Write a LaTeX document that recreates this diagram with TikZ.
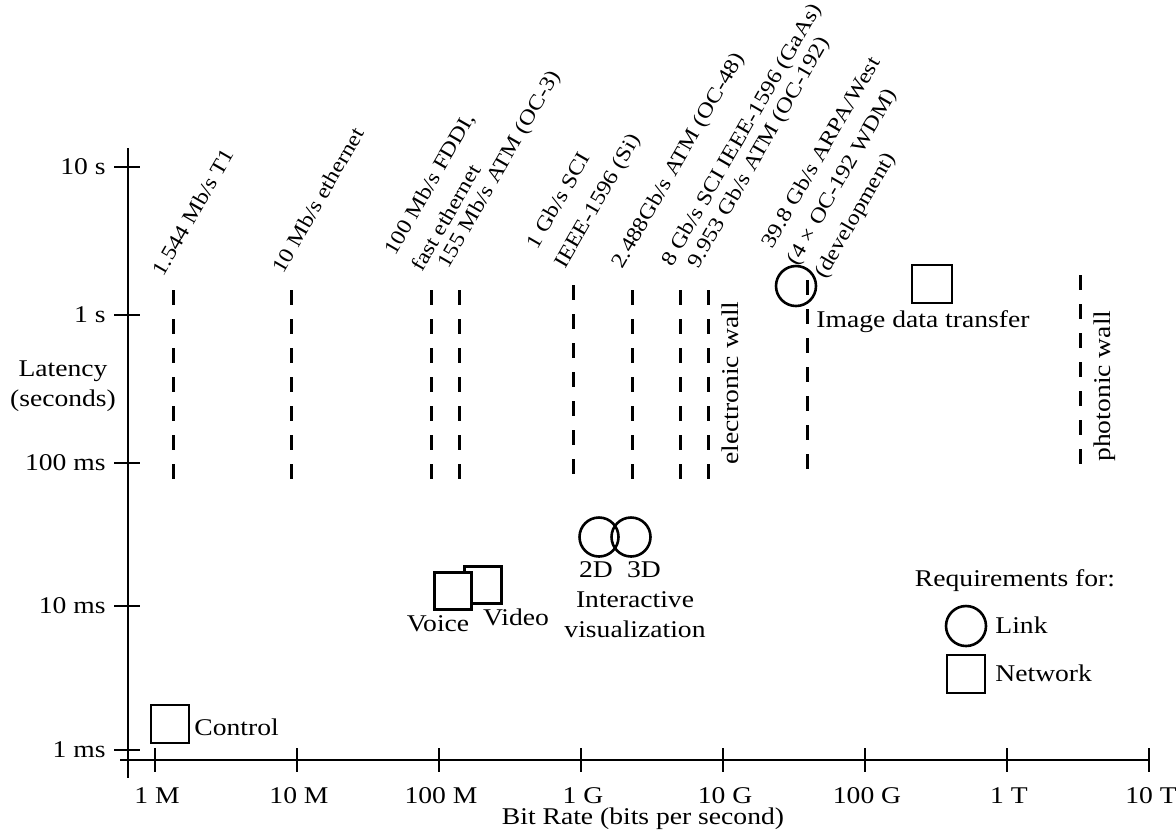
\documentclass[tikz,border=0pt]{standalone}
\usepackage{fontspec}
\setmainfont[FakeStretch=1.15]{Liberation Serif}
\begin{document}
\begin{tikzpicture}[x=0.5pt,y=-0.5pt,
  axline/.style={line width=1.4pt},
  axtick/.style={line width=1.2pt},
  dashline/.style={line width=1.5pt, dash pattern=on 7.5pt off 7pt},
  lbl/.style={inner sep=0pt, font=\fontsize{12}{15}\selectfont},
  rlab/.style={rotate=60, anchor=base west, inner sep=0pt, font=\fontsize{10.5}{12}\selectfont},
  vlab/.style={rotate=90, anchor=base west, inner sep=0pt, font=\fontsize{12}{15}\selectfont},
  sq/.style={draw, line width=1.3pt, fill=white, rectangle, inner sep=0pt, minimum width=19pt, minimum height=19pt},
  ci/.style={draw, line width=1.3pt, circle, inner sep=0pt, minimum size=20pt}
]
\useasboundingbox[fill=white] (0,0) rectangle (1176,832);

% axes
\coordinate (ytop) at (128,148);
\coordinate (ybot) at (128,778);
\coordinate (xl) at (120,760);
\coordinate (xr) at (1150,760);
\draw[axline] (ytop) -- (ybot);
\draw[axline] (xl) -- (xr);

% y ticks and labels
\foreach \yy/\t [count=\i] in {167/10 s, 315/1 s, 463/100 ms, 606/10 ms, 750/1 ms}{
  \draw[axtick] (114,\yy) -- (140,\yy);
  \node[lbl, anchor=east] (ylab\i) at (106,\yy) {\t};
}
\node[lbl, align=center] (latency) at (63,386) {Latency\\(seconds)};

% x ticks and labels
\foreach \xx/\t [count=\i] in {155/1 M, 297/10 M, 439/100 M, 581/1 G, 723/10 G, 865/100 G, 1007/1 T, 1149/10 T}{
  \draw[axtick] (\xx,748) -- (\xx,772);
  \node[lbl] (xlab\i) at (\xx+2,796) {\t};
}
\node[lbl] (xtitle) at (643,819) {Bit Rate (bits per second)};

% dashed technology lines
\foreach \xx/\ya/\yb in {173/290/483, 291/290/483, 431/290/483, 459/290/483, 573/285/483, 632/290/483, 680/290/483, 708/290/483, 807/280/483, 1080/275/470}{
  \draw[dashline] (\xx,\ya) -- (\xx,\yb);
}

% rotated technology labels
\node[rlab] (t1) at (163,278) {1.544 Mb/s T1};
\node[rlab] (eth) at (283,275) {10 Mb/s ethernet};
\node[rlab] (fddi) at (395,257) {100 Mb/s FDDI,};
\node[rlab] (feth) at (422,273) {fast ethernet};
\node[rlab] (oc3) at (448,270) {155 Mb/s ATM (OC-3)};
\node[rlab] (sci) at (537,251) {1 Gb/s SCI};
\node[rlab] (ieee) at (565,270) {IEEE-1596 (Si)};
\node[rlab] (oc48) at (622,270) {2.488Gb/s ATM (OC-48)};
\node[rlab] (gaas) at (672,268) {8 Gb/s SCI IEEE-1596 (GaAs)};
\node[rlab] (oc192) at (698,270) {9.953 Gb/s ATM (OC-192)};
\node[rlab] (arpa) at (772,250) {39.8 Gb/s ARPA/West};
\node[rlab] (wdm) at (797,267) {(4 × OC-192 WDM)};
\node[rlab] (dev) at (825,280) {(development)};

% walls
\node[vlab] (ewall) at (738,465) {electronic wall};
\node[vlab] (pwall) at (1110,462) {photonic wall};

% requirement symbols
\node[ci] (link40) at (796,286) {};
\node[sq, minimum height=19pt, minimum width=20pt] (imgsq) at (932,284) {};
\node[lbl, anchor=west] (imgtxt) at (816,322) {Image data transfer};

\node[sq, minimum size=18.5pt] (videosq) at (483,585) {};
\node[sq, minimum size=18.5pt] (voicesq) at (453,591) {};
\node[lbl] (voice) at (438,624) {Voice};
\node[lbl] (video) at (516,617) {Video};

\node[ci, minimum size=19.5pt] (c2d) at (599,537) {};
\node[ci, minimum size=19.5pt] (c3d) at (631,537) {};
\node[lbl] (l2d) at (596,570) {2D};
\node[lbl] (l3d) at (644,570) {3D};
\node[lbl, align=center] (ivis) at (635,615) {Interactive\\visualization};

\node[sq] (ctrlsq) at (170,724) {};
\node[lbl, anchor=west] (ctrl) at (194,727) {Control};

% legend
\node[lbl] (req) at (1015,581) {Requirements for:};
\node[ci] (legc) at (966,626) {};
\node[lbl, anchor=west] (link) at (995,625) {Link};
\node[sq] (legs) at (966,674) {};
\node[lbl, anchor=west] (net) at (995,673) {Network};
\end{tikzpicture}
\end{document}
